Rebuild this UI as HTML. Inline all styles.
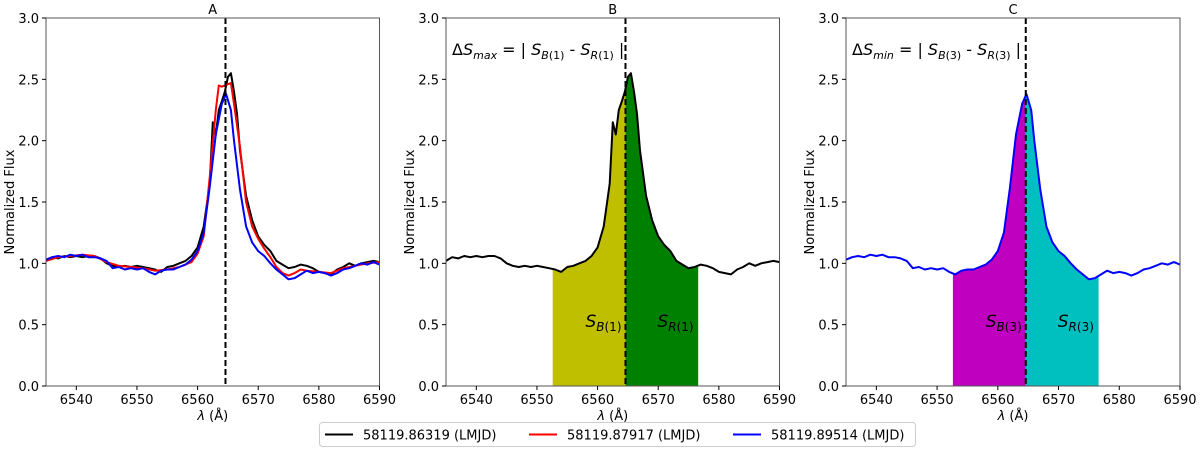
<!DOCTYPE html>
<html><head><meta charset="utf-8"><style>
body{margin:0;background:#fff;width:1200px;height:451px;overflow:hidden;font-family:"Liberation Sans","DejaVu Sans",sans-serif}
svg text{font-family:"DejaVu Sans","Liberation Sans",sans-serif}
</style></head><body>
<svg id="fig" width="1200" height="451" viewBox="0 0 1200 451"></svg>
<script>
const blackX=[6535,6536,6537,6538,6539,6540,6541,6542,6543,6544,6545,6546,6547,6548,6549,6550,6551,6552,6553,6554,6555,6556,6557,6558,6559,6560,6561,6562,6562.5,6563,6563.5,6564,6564.5,6565,6565.5,6566,6566.5,6567,6568,6569,6570,6571,6572,6573,6574,6575,6576,6577,6578,6579,6580,6581,6582,6583,6584,6585,6586,6587,6588,6589,6590];
const blackY=[1.02,1.05,1.04,1.06,1.05,1.06,1.05,1.06,1.06,1.04,1.00,0.98,0.97,0.98,0.97,0.98,0.97,0.96,0.95,0.93,0.97,0.98,1.00,1.02,1.06,1.13,1.30,1.65,2.15,2.05,2.25,2.32,2.40,2.52,2.55,2.40,2.22,1.92,1.55,1.35,1.22,1.15,1.10,1.02,0.99,0.96,0.97,0.99,0.98,0.96,0.93,0.92,0.91,0.95,0.97,1.00,0.98,1.00,1.01,1.02,1.01];
const redX=[6535,6537,6539,6541,6543,6545,6547,6549,6551,6553,6555,6557,6559,6560,6561,6562,6563,6563.5,6564,6565,6565.5,6566,6567,6568,6569,6570,6571,6572,6573,6574,6575,6576,6577,6578,6580,6582,6584,6586,6588,6590];
const redY=[1.02,1.05,1.06,1.07,1.06,1.01,0.98,0.97,0.96,0.94,0.95,0.97,1.01,1.08,1.22,1.70,2.25,2.45,2.44,2.46,2.47,2.30,1.95,1.50,1.30,1.20,1.12,1.05,0.97,0.92,0.90,0.92,0.95,0.94,0.93,0.92,0.96,0.98,1.00,1.01];
const blueX=[6535,6536,6537,6538,6539,6540,6541,6542,6543,6544,6545,6546,6547,6548,6549,6550,6551,6552,6553,6554,6555,6556,6557,6558,6559,6560,6561,6562,6563,6564,6564.7,6565.5,6566,6567,6568,6569,6570,6571,6572,6573,6574,6575,6576,6577,6578,6579,6580,6581,6582,6583,6584,6585,6586,6587,6588,6589,6590];
const blueY=[1.03,1.05,1.06,1.05,1.07,1.06,1.07,1.05,1.05,1.04,1.02,0.96,0.97,0.95,0.96,0.95,0.96,0.93,0.91,0.94,0.95,0.95,0.97,0.99,1.03,1.10,1.25,1.62,2.05,2.30,2.38,2.25,2.00,1.60,1.30,1.17,1.10,1.06,1.00,0.95,0.91,0.87,0.88,0.91,0.94,0.92,0.93,0.92,0.90,0.92,0.95,0.96,0.98,1.00,0.99,1.01,0.99];
const xTicks=[6540,6550,6560,6570,6580,6590];
const yTicks=[0.0,0.5,1.0,1.5,2.0,2.5,3.0];
const centerLambda=6564.6;
const fillStart=6552.6, fillEnd=6576.6;
const legendLabels=["58119.86319 (LMJD)","58119.87917 (LMJD)","58119.89514 (LMJD)"];

const NS="http://www.w3.org/2000/svg";
const svg=document.getElementById('fig');
function mk(tag,attrs,parent){const e=document.createElementNS(NS,tag);for(const k in attrs)e.setAttribute(k,attrs[k]);(parent||svg).appendChild(e);return e;}
const yTop=18,yBot=386,xmin=6535,xmax=6590;
function interp(xs,ys,x){for(let i=0;i<xs.length-1;i++){if(x>=xs[i]&&x<=xs[i+1]){const t=(x-xs[i])/(xs[i+1]-xs[i]);return ys[i]+t*(ys[i+1]-ys[i]);}}return ys[ys.length-1];}

function panel(left,right,title,key,series,fills,eq){
  const g=mk('g',{});
  
  
  const sx=v=>left+(v-xmin)/(xmax-xmin)*(right-left);
  const sy=v=>yBot-v/3*(yBot-yTop);
  if(fills){
    const seg=[[fillStart,centerLambda,fills[0],'fill-blue-'+key],[centerLambda,fillEnd,fills[1],'fill-red-'+key]];
    const xs=series[0][0],ys=series[0][1];
    seg.forEach(s=>{
      let pts=[[s[0],0],[s[0],interp(xs,ys,s[0])]];
      xs.forEach((x,i)=>{if(x>s[0]&&x<s[1])pts.push([x,ys[i]]);});
      pts.push([s[1],interp(xs,ys,s[1])],[s[1],0]);
      const p=mk('polygon',{points:pts.map(q=>sx(q[0]).toFixed(1)+','+sy(q[1]).toFixed(1)).join(' '),fill:s[2]},g);
      
      
    });
  }
  series.forEach(s=>{
    const d=s[0].map((x,i)=>(i?'L':'M')+sx(x).toFixed(1)+','+sy(s[1][i]).toFixed(1)).join('');
    const p=mk('path',{d:d,fill:'none',stroke:s[2],'stroke-width':2,'stroke-linejoin':'round'},g);
    
    
  });
  const vl=mk('line',{x1:sx(centerLambda),x2:sx(centerLambda),y1:yTop,y2:yBot,stroke:'#000','stroke-width':2,'stroke-dasharray':'6,3'},g);
  
  
  const fr=mk('rect',{x:left,y:yTop,width:right-left,height:yBot-yTop,fill:'none',stroke:'#555','stroke-width':1},g);
  
  
  xTicks.forEach(t=>{
    mk('line',{x1:sx(t),x2:sx(t),y1:yBot,y2:yBot+4,stroke:'#000'},g);
    const tx=mk('text',{x:sx(t),y:yBot+18,'font-size':13,'text-anchor':'middle'},g);tx.textContent=t;
    
    
  });
  yTicks.forEach(t=>{
    mk('line',{x1:left-4,x2:left,y1:sy(t),y2:sy(t),stroke:'#000'},g);
    const tx=mk('text',{x:left-7,y:sy(t)+5,'font-size':13,'text-anchor':'end'},g);tx.textContent=t.toFixed(1);
    
    
  });
  const tt=mk('text',{x:(left+right)/2,y:14,'font-size':13,'text-anchor':'middle'},g);tt.textContent=title;
  
  
  const xl=mk('text',{x:(left+right)/2,y:420,'font-size':13,'text-anchor':'middle'},g);
  xl.innerHTML='<tspan font-style="italic">λ</tspan> (Å)';
  
  
  const yl=mk('text',{x:0,y:0,'font-size':13,'text-anchor':'middle',transform:`translate(${left-32},${(yTop+yBot)/2}) rotate(-90)`},g);yl.textContent='Normalized Flux';
  
  
  if(eq){
    const e=mk('text',{x:left+6,y:55,'font-size':16},g);
    e.innerHTML=`Δ<tspan font-style="italic">S</tspan><tspan font-style="italic" font-size="11" dy="4">${eq[0]}</tspan><tspan dy="-4"> = | </tspan><tspan font-style="italic">S</tspan><tspan font-size="11" dy="4"><tspan font-style="italic">B</tspan>(${eq[1]})</tspan><tspan dy="-4"> - </tspan><tspan font-style="italic">S</tspan><tspan font-size="11" dy="4"><tspan font-style="italic">R</tspan>(${eq[1]})</tspan><tspan dy="-4"> |</tspan>`;
    
    
    const lb=mk('text',{x:sx(centerLambda)-40,y:327,'font-size':17},g);
    lb.innerHTML=`<tspan font-style="italic">S</tspan><tspan font-size="12" dy="4"><tspan font-style="italic">B</tspan>(${eq[1]})</tspan>`;
    
    
    const lr=mk('text',{x:sx(centerLambda)+32,y:327,'font-size':17},g);
    lr.innerHTML=`<tspan font-style="italic">S</tspan><tspan font-size="12" dy="4"><tspan font-style="italic">R</tspan>(${eq[1]})</tspan>`;
    
    
  }
}
panel(46,379.5,'A','a',[[blackX,blackY,'#000','series-black'],[redX,redY,'#ff0000','series-red'],[blueX,blueY,'#0000ff','series-blue']],null,null);
panel(446,779.5,'B','b',[[blackX,blackY,'#000','series-black']],['#bfbf00','#008000'],['max','1']);
panel(846,1180,'C','c',[[blueX,blueY,'#0000ff','series-blue']],['#bf00bf','#00bfbf'],['min','3']);

const lg=mk('g',{});


const lbox=mk('rect',{x:319.5,y:422.5,width:596,height:24,rx:3,fill:'#fff',stroke:'#ccc'},lg);


const lcol=['#000','#ff0000','#0000ff'];
legendLabels.forEach((t,i)=>{
  const x0=325+i*204;
  const ln=mk('line',{x1:x0,x2:x0+28,y1:434.5,y2:434.5,stroke:lcol[i],'stroke-width':2},lg);
  
  
  const tx=mk('text',{x:x0+38,y:439.5,'font-size':13},lg);tx.textContent=t;
  
  
});
</script>
</body></html>
